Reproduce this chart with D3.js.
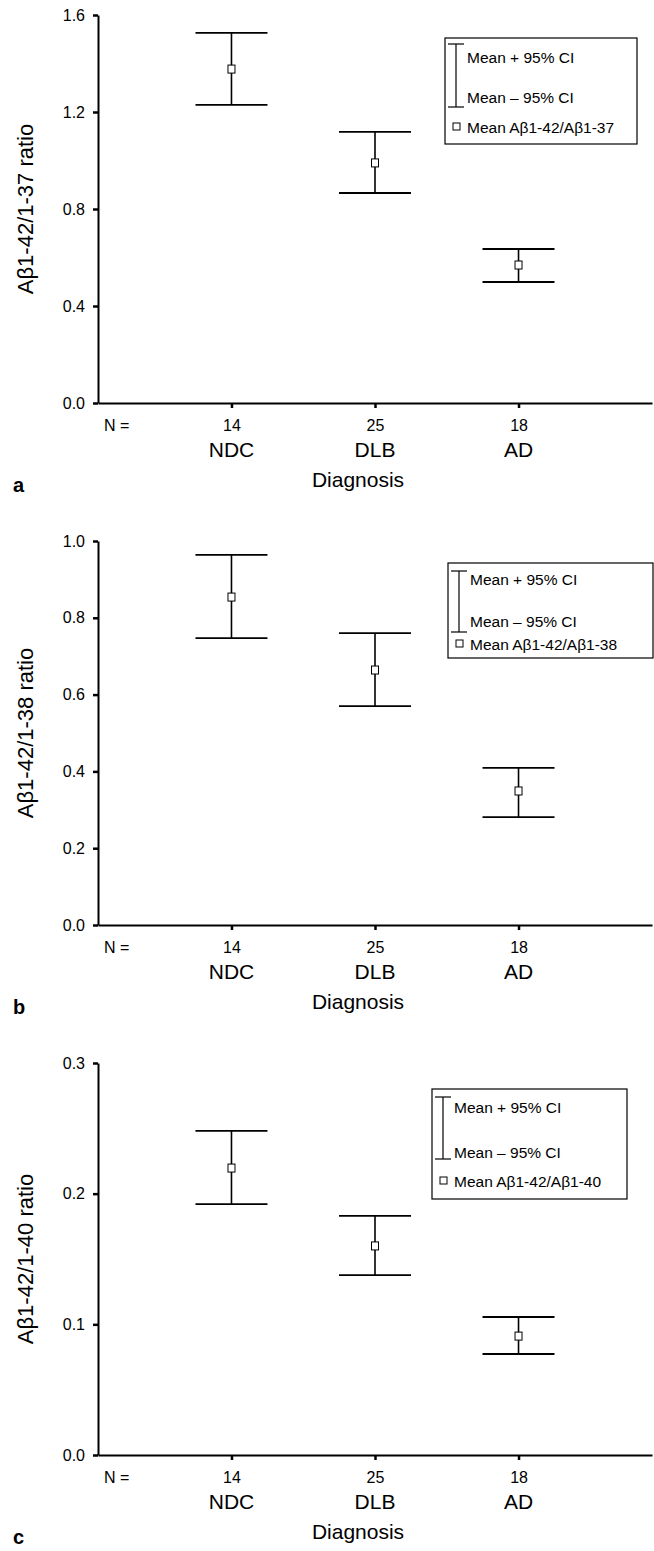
<!DOCTYPE html>
<html>
<head>
<meta charset="utf-8">
<script src="https://cdn.jsdelivr.net/npm/d3@7"></script>
<style>
  body { margin: 0; background: #fff; }
  svg { display: block; font-family: "Liberation Sans", Arial, sans-serif; }
  .axis path, .axis line { stroke: #000; }
  .axis text { fill: #000; }
</style>
</head>
<body>
<svg id="chart" width="654" height="1551"></svg>
<script>
// data
var categories = ["NDC", "DLB", "AD"];
var nValues = [14, 25, 18];

var meanA = [1.377, 0.990, 0.569];
var lowA  = [1.229, 0.866, 0.499];
var highA = [1.526, 1.118, 0.635];
var ticksA = [0.0, 0.4, 0.8, 1.2, 1.6];

var meanB = [0.854, 0.664, 0.349];
var lowB  = [0.747, 0.570, 0.281];
var highB = [0.964, 0.760, 0.409];
var ticksB = [0.0, 0.2, 0.4, 0.6, 0.8, 1.0];

var meanC = [0.2196, 0.160, 0.091];
var lowC  = [0.192, 0.1377, 0.0773];
var highC = [0.248, 0.183, 0.1056];
var ticksC = [0.0, 0.1, 0.2, 0.3];

var legendLabels = ["Mean + 95% CI", "Mean \u2013 95% CI"];

var panels = [
  { letter: "a", ylab: "A\u03b21-42/1-37 ratio", legend: "Mean A\u03b21-42/A\u03b21-37",
    mean: meanA, low: lowA, high: highA, ticks: ticksA,
    top: 15, bottom: 403, box: [445, 38, 192, 106], caps: [6, 69], rows: [25, 65, 95] },
  { letter: "b", ylab: "A\u03b21-42/1-38 ratio", legend: "Mean A\u03b21-42/A\u03b21-38",
    mean: meanB, low: lowB, high: highB, ticks: ticksB,
    top: 541, bottom: 925, box: [448, 563, 205, 95], caps: [8, 69], rows: [22, 64, 87] },
  { letter: "c", ylab: "A\u03b21-42/1-40 ratio", legend: "Mean A\u03b21-42/A\u03b21-40",
    mean: meanC, low: lowC, high: highC, ticks: ticksC,
    top: 1063, bottom: 1455, box: [432, 1089, 195, 110], caps: [8, 70], rows: [24, 69, 98] }
];

var svg = d3.select("#chart");
var left = 98, right = 652, capW = 36;

var x = d3.scalePoint()
  .domain(categories)
  .range([left, right])
  .padding(0.93);

panels.forEach(function(p) {
  var g = svg.append("g");
  var y = d3.scaleLinear()
    .domain([0, d3.max(p.ticks)])
    .range([p.bottom, p.top]);

  // y axis
  var ya = g.append("g")
    .attr("class", "axis")
    .attr("transform", "translate(" + left + ",0)")
    .call(d3.axisLeft(y).tickValues(p.ticks).tickSize(5).tickSizeOuter(0).tickPadding(8).tickFormat(d3.format(".1f")));
  ya.select(".domain").attr("stroke-width", 2);
  ya.selectAll(".tick line").attr("stroke-width", 2.5);
  ya.selectAll(".tick text").attr("font-size", 16);

  // x axis, N values as tick labels
  var xa = g.append("g")
    .attr("class", "axis")
    .attr("transform", "translate(0," + p.bottom + ")")
    .call(d3.axisBottom(x).tickSize(5).tickSizeOuter(0).tickPadding(12)
      .tickFormat(function(d, i) { return nValues[i]; }));
  xa.select(".domain").attr("stroke-width", 2);
  xa.selectAll(".tick line").attr("stroke-width", 2.5);
  xa.selectAll(".tick text").attr("font-size", 16);

  g.append("text")
    .attr("x", 104)
    .attr("y", p.bottom + 28)
    .attr("font-size", 16)
    .text("N =");

  g.selectAll(".cat")
    .data(categories).enter()
    .append("text")
    .attr("x", function(d) { return x(d); })
    .attr("y", p.bottom + 54)
    .attr("text-anchor", "middle")
    .attr("font-size", 21)
    .text(function(d) { return d; });

  g.append("text")
    .attr("x", 358)
    .attr("y", p.bottom + 84)
    .attr("text-anchor", "middle")
    .attr("font-size", 21)
    .text("Diagnosis");

  g.append("text")
    .attr("x", 13)
    .attr("y", p.bottom + 89)
    .attr("font-size", 20)
    .attr("font-weight", "bold")
    .text(p.letter);

  g.append("text")
    .attr("transform", "translate(33," + ((p.top + p.bottom) / 2) + ") rotate(-90)")
    .attr("text-anchor", "middle")
    .attr("font-size", 22)
    .text(p.ylab);

  // error bars
  var bars = g.selectAll(".bar")
    .data(categories).enter()
    .append("g");

  bars.append("line")
    .attr("x1", function(d) { return x(d); })
    .attr("x2", function(d) { return x(d); })
    .attr("y1", function(d, i) { return y(p.high[i]); })
    .attr("y2", function(d, i) { return y(p.low[i]); })
    .attr("stroke", "#000").attr("stroke-width", 1.6);

  bars.append("line")
    .attr("x1", function(d) { return x(d) - capW; })
    .attr("x2", function(d) { return x(d) + capW; })
    .attr("y1", function(d, i) { return y(p.high[i]); })
    .attr("y2", function(d, i) { return y(p.high[i]); })
    .attr("stroke", "#000").attr("stroke-width", 1.8);

  bars.append("line")
    .attr("x1", function(d) { return x(d) - capW; })
    .attr("x2", function(d) { return x(d) + capW; })
    .attr("y1", function(d, i) { return y(p.low[i]); })
    .attr("y2", function(d, i) { return y(p.low[i]); })
    .attr("stroke", "#000").attr("stroke-width", 1.8);

  bars.append("rect")
    .attr("x", function(d) { return x(d) - 3.5; })
    .attr("y", function(d, i) { return y(p.mean[i]) - 4; })
    .attr("width", 7)
    .attr("height", 8)
    .attr("fill", "#fff")
    .attr("stroke", "#000")
    .attr("stroke-width", 1);

  // legend
  var b = p.box;
  var lg = g.append("g").attr("transform", "translate(" + b[0] + "," + b[1] + ")");
  lg.append("rect")
    .attr("width", b[2]).attr("height", b[3])
    .attr("fill", "#fff").attr("stroke", "#000").attr("stroke-width", 1.2);
  lg.append("line").attr("x1", 11).attr("x2", 11).attr("y1", p.caps[0]).attr("y2", p.caps[1])
    .attr("stroke", "#000").attr("stroke-width", 1.2);
  lg.selectAll(".cap")
    .data(p.caps).enter()
    .append("line")
    .attr("x1", 3).attr("x2", 19)
    .attr("y1", function(d) { return d; })
    .attr("y2", function(d) { return d; })
    .attr("stroke", "#000").attr("stroke-width", 1.2);
  lg.append("rect").attr("x", 8).attr("y", p.rows[2] - 10).attr("width", 7).attr("height", 7)
    .attr("fill", "#fff").attr("stroke", "#000").attr("stroke-width", 1);

  lg.selectAll(".lt")
    .data(legendLabels.concat([p.legend])).enter()
    .append("text")
    .attr("x", 22)
    .attr("y", function(d, i) { return p.rows[i]; })
    .attr("font-size", 15.5)
    .text(function(d) { return d; });
});
</script>
</body>
</html>
